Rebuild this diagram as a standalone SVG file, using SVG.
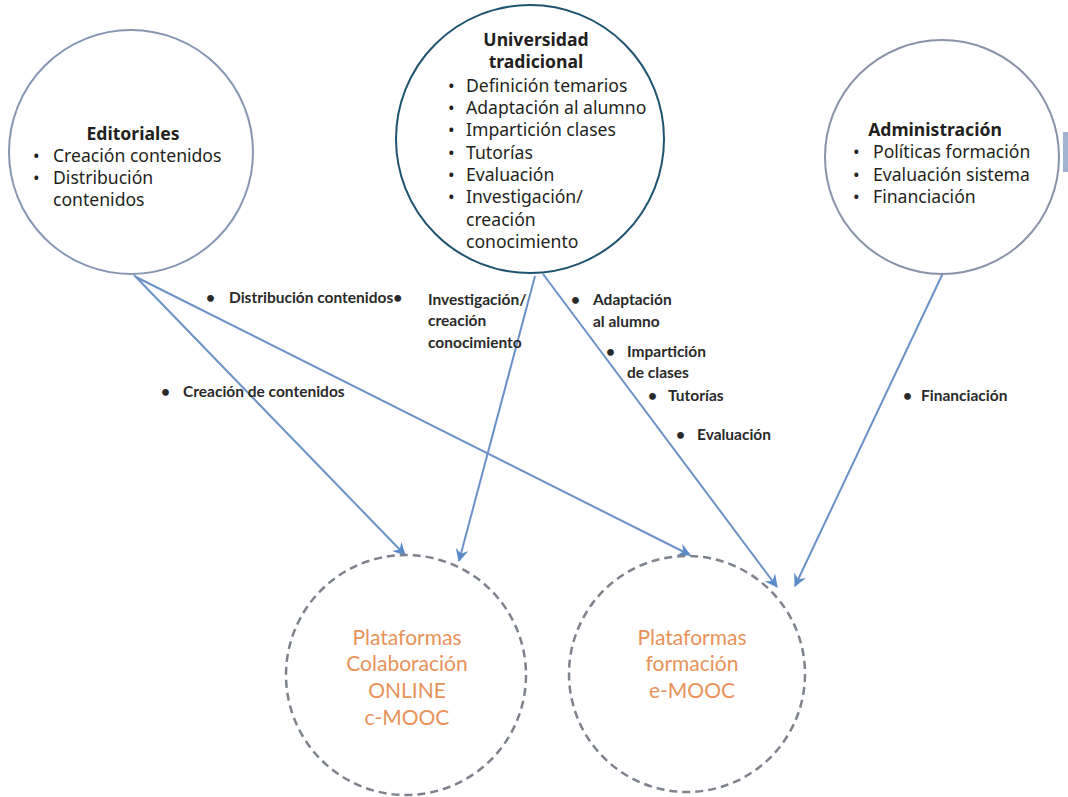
<svg xmlns="http://www.w3.org/2000/svg" width="1068" height="797" viewBox="0 0 1068 797">
<style>
.node{fill:none;stroke-width:2}
.dash{fill:none;stroke:#7d828c;stroke-width:2.5;stroke-dasharray:8 5}
.t{font-family:"Noto Sans","Open Sans",sans-serif;font-size:17.6px;fill:#231f20}
.b{font-weight:700}
.lab{font-family:Lato,"Liberation Sans",sans-serif;font-size:15.5px;font-weight:700;fill:#2a2a2a}
.or{font-family:Lato,"Liberation Sans",sans-serif;font-size:21px;fill:#e8925a;text-anchor:middle}
.con{stroke:#6a92c8;stroke-width:2;fill:none;marker-end:url(#ah)}
</style>
<defs>
<marker id="ah" viewBox="0 0 12 12" refX="11" refY="6" markerWidth="13" markerHeight="13" markerUnits="userSpaceOnUse" orient="auto">
<path d="M0,0 L12,6 L0,12 L4,6 z" fill="#5b8ac8"/>
</marker>
</defs>
<rect width="1068" height="797" fill="#ffffff"/>
<rect x="1063" y="132" width="5" height="40" fill="#9fb3d0"/>
<g id="connectors">
<line class="con" x1="134" y1="275" x2="405" y2="555"/>
<line class="con" x1="136" y1="277" x2="690" y2="555"/>
<line class="con" x1="535" y1="276" x2="459" y2="561"/>
<line class="con" x1="543" y1="274" x2="777" y2="587"/>
<line class="con" x1="943" y1="273" x2="795" y2="586"/>
</g>
<g id="editoriales">
<circle class="node" cx="131" cy="152" r="122" stroke="#8797b3"/>
<text class="t b" x="133" y="140" text-anchor="middle">Editoriales</text>
<text class="t" x="33" y="162">•</text><text class="t" x="53" y="162">Creación contenidos</text>
<text class="t" x="33" y="184">•</text><text class="t" x="53" y="184">Distribución</text>
<text class="t" x="53" y="206">contenidos</text>
</g>
<g id="universidad">
<circle class="node" cx="530" cy="139" r="134" stroke="#1e5470"/>
<text class="t b" x="536" y="46" text-anchor="middle">Universidad</text>
<text class="t b" x="536" y="68" text-anchor="middle">tradicional</text>
<text class="t" x="448" y="92">•</text><text class="t" x="466" y="92">Definición temarios</text>
<text class="t" x="448" y="114">•</text><text class="t" x="466" y="114">Adaptación al alumno</text>
<text class="t" x="448" y="136">•</text><text class="t" x="466" y="136">Impartición clases</text>
<text class="t" x="448" y="159">•</text><text class="t" x="466" y="159">Tutorías</text>
<text class="t" x="448" y="181">•</text><text class="t" x="466" y="181">Evaluación</text>
<text class="t" x="448" y="203">•</text><text class="t" x="466" y="203">Investigación/</text>
<text class="t" x="466" y="226">creación</text>
<text class="t" x="466" y="248">conocimiento</text>
</g>
<g id="administracion">
<circle class="node" cx="942" cy="157" r="117" stroke="#8a93a8"/>
<text class="t b" x="935" y="136" text-anchor="middle">Administración</text>
<text class="t" x="853" y="158">•</text><text class="t" x="873" y="158">Políticas formación</text>
<text class="t" x="853" y="181">•</text><text class="t" x="873" y="181">Evaluación sistema</text>
<text class="t" x="853" y="203">•</text><text class="t" x="873" y="203">Financiación</text>
</g>
<g id="labels">
<text class="lab" x="206" y="303">•</text><text class="lab" x="229" y="303">Distribución contenidos•</text>
<text class="lab" x="428" y="305">Investigación/</text>
<text class="lab" x="428" y="326">creación</text>
<text class="lab" x="428" y="348">conocimiento</text>
<text class="lab" x="161" y="397">•</text><text class="lab" x="183" y="397">Creación de contenidos</text>
<text class="lab" x="571" y="305">•</text><text class="lab" x="593" y="305">Adaptación</text>
<text class="lab" x="593" y="327">al alumno</text>
<text class="lab" x="606" y="357">•</text><text class="lab" x="627" y="357">Impartición</text>
<text class="lab" x="627" y="378">de clases</text>
<text class="lab" x="648" y="401">•</text><text class="lab" x="668" y="401">Tutorías</text>
<text class="lab" x="676" y="440">•</text><text class="lab" x="697" y="440">Evaluación</text>
<text class="lab" x="903" y="401">•</text><text class="lab" x="921" y="401">Financiación</text>
</g>
<g id="c-mooc">
<circle class="dash" cx="406" cy="675" r="120"/>
<text class="or" x="407" y="645">Plataformas</text>
<text class="or" x="407" y="671">Colaboración</text>
<text class="or" x="407" y="698">ONLINE</text>
<text class="or" x="407" y="725">c-MOOC</text>
</g>
<g id="e-mooc">
<circle class="dash" cx="687" cy="674" r="118"/>
<text class="or" x="692" y="645">Plataformas</text>
<text class="or" x="692" y="671">formación</text>
<text class="or" x="692" y="698">e-MOOC</text>
</g>
</svg>
